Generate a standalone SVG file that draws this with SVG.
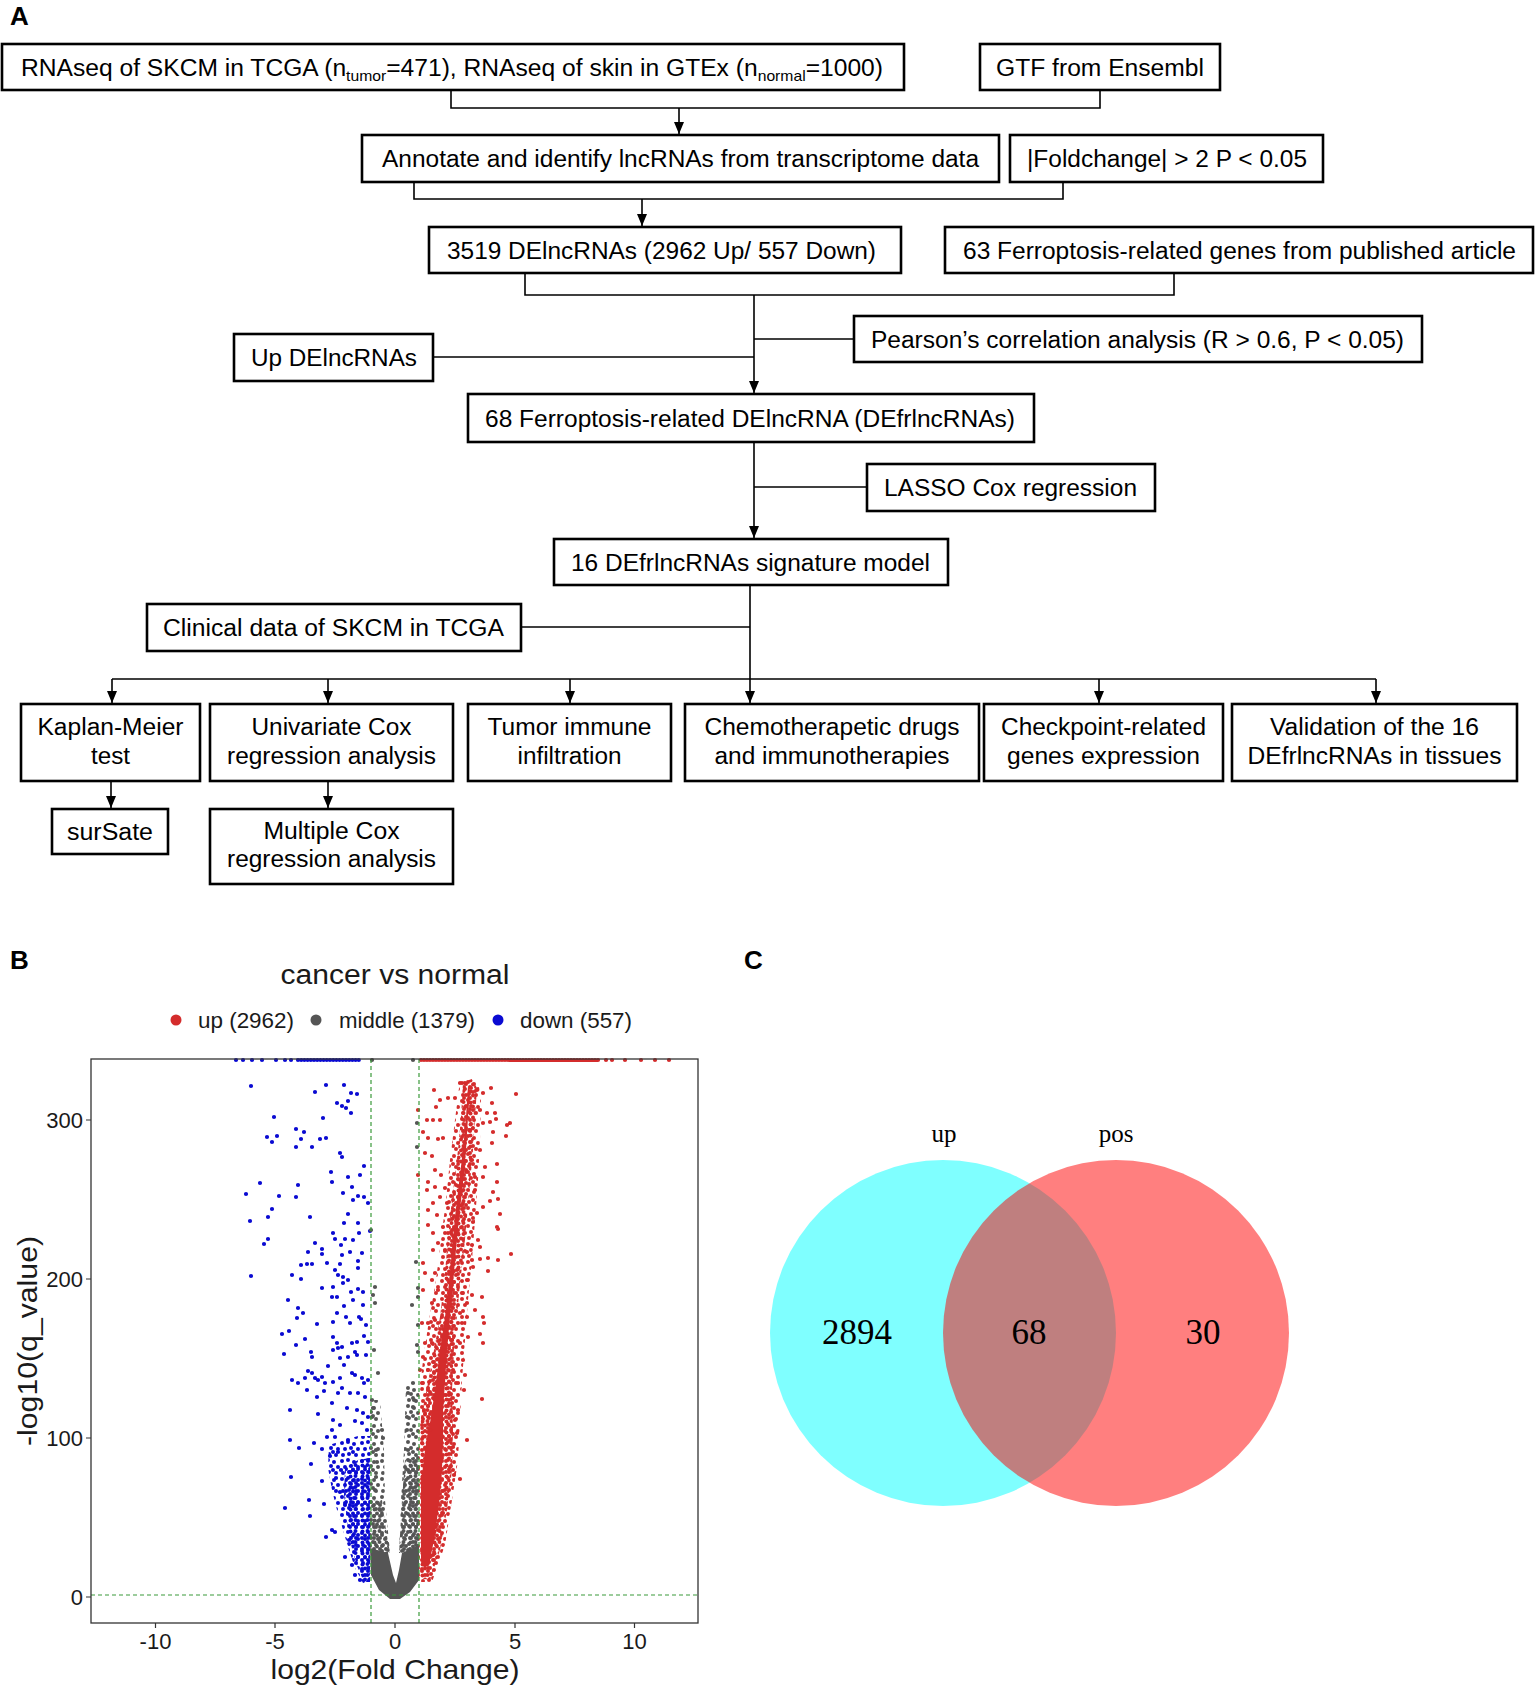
<svg xmlns="http://www.w3.org/2000/svg" width="1535" height="1685" viewBox="0 0 1535 1685">
<style>
.box{fill:#fff;stroke:#000;stroke-width:2.6}
.t{font-family:"Liberation Sans",Arial,sans-serif;font-size:23.5px;fill:#000;text-anchor:middle}
.ln{fill:none;stroke:#000;stroke-width:1.6}
.arr{fill:none;stroke:#000;stroke-width:1.6;marker-end:url(#ah)}
.lbl{font-family:"Liberation Sans",Arial,sans-serif;font-weight:bold;font-size:26px;fill:#000}
.ax{font-family:"Liberation Sans",Arial,sans-serif;fill:#1a1a1a}
.dB{fill:none;stroke:#0A0AD2;stroke-width:4.2;stroke-linecap:round}
.dR{fill:none;stroke:#D42C2C;stroke-width:4.2;stroke-linecap:round}
.dG{fill:none;stroke:#555;stroke-width:4.2;stroke-linecap:round}
.gd{fill:none;stroke:#3A9A3A;stroke-width:1.2;stroke-dasharray:4 3}
.vn{font-family:"Liberation Serif","Times New Roman",serif;fill:#000;text-anchor:middle}
.tk{stroke:#333;stroke-width:1.2}
</style>
<defs>
<marker id="ah" markerWidth="12" markerHeight="10" refX="12" refY="5" orient="auto" markerUnits="userSpaceOnUse"><path d="M0,0 L12,5 L0,10 Z" fill="#000"/></marker>
<pattern id="pB" width="20" height="18" patternUnits="userSpaceOnUse"><g fill="#0A0AD2"><circle cx="2" cy="3" r="2"/><circle cx="8" cy="2" r="2"/><circle cx="14" cy="4" r="2"/><circle cx="18" cy="9" r="2"/><circle cx="5" cy="9" r="2"/><circle cx="11" cy="8" r="2"/><circle cx="16" cy="15" r="2"/><circle cx="3" cy="15" r="2"/><circle cx="9" cy="14" r="2"/><circle cx="13" cy="12" r="2"/></g></pattern>
<pattern id="pBd" width="12" height="11" patternUnits="userSpaceOnUse"><g fill="#0A0AD2"><circle cx="2.5" cy="2.5" r="2"/><circle cx="7.5" cy="2" r="2"/><circle cx="10" cy="6" r="2"/><circle cx="5" cy="6.5" r="2"/><circle cx="2" cy="9" r="2"/><circle cx="8" cy="9" r="2"/></g></pattern>
<pattern id="pR" width="20" height="18" patternUnits="userSpaceOnUse"><g fill="#D42C2C"><circle cx="2" cy="3" r="2"/><circle cx="8" cy="2" r="2"/><circle cx="14" cy="4" r="2"/><circle cx="18" cy="9" r="2"/><circle cx="5" cy="9" r="2"/><circle cx="11" cy="8" r="2"/><circle cx="16" cy="15" r="2"/><circle cx="3" cy="15" r="2"/><circle cx="9" cy="14" r="2"/><circle cx="13" cy="12" r="2"/></g></pattern>
<pattern id="pRd" width="12" height="11" patternUnits="userSpaceOnUse"><g fill="#D42C2C"><circle cx="2.5" cy="2.5" r="2"/><circle cx="7.5" cy="2" r="2"/><circle cx="10" cy="6" r="2"/><circle cx="5" cy="6.5" r="2"/><circle cx="2" cy="9" r="2"/><circle cx="8" cy="9" r="2"/></g></pattern>
<pattern id="pG" width="20" height="18" patternUnits="userSpaceOnUse"><g fill="#555"><circle cx="2" cy="3" r="2"/><circle cx="8" cy="2" r="2"/><circle cx="14" cy="4" r="2"/><circle cx="18" cy="9" r="2"/><circle cx="5" cy="9" r="2"/><circle cx="11" cy="8" r="2"/><circle cx="16" cy="15" r="2"/><circle cx="3" cy="15" r="2"/><circle cx="9" cy="14" r="2"/><circle cx="13" cy="12" r="2"/></g></pattern>
<pattern id="pGd" width="12" height="11" patternUnits="userSpaceOnUse"><g fill="#555"><circle cx="2.5" cy="2.5" r="2"/><circle cx="7.5" cy="2" r="2"/><circle cx="10" cy="6" r="2"/><circle cx="5" cy="6.5" r="2"/><circle cx="2" cy="9" r="2"/><circle cx="8" cy="9" r="2"/></g></pattern>
</defs>
<rect width="1535" height="1685" fill="#fff"/>

<text class="lbl" x="10" y="25">A</text>
<text class="lbl" x="10" y="969">B</text>
<text class="lbl" x="744" y="969">C</text>

<g id="connectors">
<path class="ln" d="M451 90V108H1100V91"/>
<path class="arr" d="M679 108V134"/>
<path class="ln" d="M414 182V199H1063V182"/>
<path class="arr" d="M642 199V226"/>
<path class="ln" d="M525 273V295H1174V273"/>
<path class="arr" d="M754 295V393"/>
<path class="ln" d="M754 339H854"/>
<path class="ln" d="M433 357H754"/>
<path class="arr" d="M754 442V538"/>
<path class="ln" d="M754 487H867"/>
<path class="arr" d="M750 585V703"/>
<path class="ln" d="M521 627H750"/>
<path class="ln" d="M112 679H1376"/>
<path class="arr" d="M112 679V703"/>
<path class="arr" d="M328 679V703"/>
<path class="arr" d="M570 679V703"/>
<path class="arr" d="M1099 679V703"/>
<path class="arr" d="M1376 679V703"/>
<path class="arr" d="M111 781V808"/>
<path class="arr" d="M328 781V808"/>
</g>

<g id="n1"><rect class="box" x="2" y="44" width="902" height="46"/>
<text class="t" x="452" y="75.5" textLength="862" lengthAdjust="spacingAndGlyphs">RNAseq of SKCM in TCGA (n<tspan font-size="15" dy="5.5">tumor</tspan><tspan dy="-5.5">=471), RNAseq of skin in GTEx (n</tspan><tspan font-size="15" dy="5.5">normal</tspan><tspan dy="-5.5">=1000)</tspan></text></g>
<g id="n2"><rect class="box" x="980" y="44" width="240" height="46"/>
<text class="t" x="1100" y="75.5" textLength="208" lengthAdjust="spacingAndGlyphs">GTF from Ensembl</text></g>
<g id="n3"><rect class="box" x="362" y="135" width="637" height="47"/>
<text class="t" x="680.5" y="167" textLength="597" lengthAdjust="spacingAndGlyphs">Annotate and identify lncRNAs from transcriptome data</text></g>
<g id="n4"><rect class="box" x="1010" y="135" width="313" height="47"/>
<text class="t" x="1167" y="167" textLength="280" lengthAdjust="spacingAndGlyphs">|Foldchange| &gt; 2 P &lt; 0.05</text></g>
<g id="n5"><rect class="box" x="429" y="227" width="472" height="46"/>
<text class="t" x="661.5" y="258.5" textLength="429" lengthAdjust="spacingAndGlyphs">3519 DElncRNAs (2962 Up/ 557 Down)</text></g>
<g id="n6"><rect class="box" x="945" y="227" width="588" height="46"/>
<text class="t" x="1239.5" y="258.5" textLength="553" lengthAdjust="spacingAndGlyphs">63 Ferroptosis-related genes from published article</text></g>
<g id="n7"><rect class="box" x="854" y="316" width="568" height="46"/>
<text class="t" x="1137.5" y="347.5" textLength="533" lengthAdjust="spacingAndGlyphs">Pearson’s correlation analysis (R &gt; 0.6, P &lt; 0.05)</text></g>
<g id="n8"><rect class="box" x="234" y="334" width="199" height="47"/>
<text class="t" x="334" y="366" textLength="166" lengthAdjust="spacingAndGlyphs">Up DElncRNAs</text></g>
<g id="n9"><rect class="box" x="468" y="394" width="566" height="48"/>
<text class="t" x="750" y="426.5" textLength="530" lengthAdjust="spacingAndGlyphs">68 Ferroptosis-related DElncRNA (DEfrlncRNAs)</text></g>
<g id="n10"><rect class="box" x="867" y="464" width="288" height="47"/>
<text class="t" x="1010.5" y="496" textLength="253" lengthAdjust="spacingAndGlyphs">LASSO Cox regression</text></g>
<g id="n11"><rect class="box" x="554" y="539" width="394" height="46"/>
<text class="t" x="750.5" y="570.5" textLength="359" lengthAdjust="spacingAndGlyphs">16 DEfrlncRNAs signature model</text></g>
<g id="n12"><rect class="box" x="147" y="604" width="374" height="47"/>
<text class="t" x="333.5" y="636" textLength="341" lengthAdjust="spacingAndGlyphs">Clinical data of SKCM in TCGA</text></g>
<g id="n13"><rect class="box" x="21" y="704" width="179" height="77"/>
<text class="t" x="110.5" y="735" textLength="146" lengthAdjust="spacingAndGlyphs">Kaplan-Meier</text>
<text class="t" x="110.5" y="763.5" textLength="39" lengthAdjust="spacingAndGlyphs">test</text></g>
<g id="n14"><rect class="box" x="210" y="704" width="243" height="77"/>
<text class="t" x="331.5" y="735" textLength="160" lengthAdjust="spacingAndGlyphs">Univariate Cox</text>
<text class="t" x="331.5" y="763.5" textLength="209" lengthAdjust="spacingAndGlyphs">regression analysis</text></g>
<g id="n15"><rect class="box" x="468" y="704" width="203" height="77"/>
<text class="t" x="569.5" y="735" textLength="164" lengthAdjust="spacingAndGlyphs">Tumor immune</text>
<text class="t" x="569.5" y="763.5" textLength="104" lengthAdjust="spacingAndGlyphs">infiltration</text></g>
<g id="n16"><rect class="box" x="685" y="704" width="294" height="77"/>
<text class="t" x="832" y="735" textLength="255" lengthAdjust="spacingAndGlyphs">Chemotherapetic drugs</text>
<text class="t" x="832" y="763.5" textLength="235" lengthAdjust="spacingAndGlyphs">and immunotherapies</text></g>
<g id="n17"><rect class="box" x="984" y="704" width="239" height="77"/>
<text class="t" x="1103.5" y="735" textLength="205" lengthAdjust="spacingAndGlyphs">Checkpoint-related</text>
<text class="t" x="1103.5" y="763.5" textLength="193" lengthAdjust="spacingAndGlyphs">genes expression</text></g>
<g id="n18"><rect class="box" x="1232" y="704" width="285" height="77"/>
<text class="t" x="1374.5" y="735" textLength="209" lengthAdjust="spacingAndGlyphs">Validation of the 16</text>
<text class="t" x="1374.5" y="763.5" textLength="254" lengthAdjust="spacingAndGlyphs">DEfrlncRNAs in tissues</text></g>
<g id="n19"><rect class="box" x="52" y="809" width="116" height="45"/>
<text class="t" x="110" y="840" textLength="86" lengthAdjust="spacingAndGlyphs">surSate</text></g>
<g id="n20"><rect class="box" x="210" y="809" width="243" height="75"/>
<text class="t" x="331.5" y="839" textLength="136" lengthAdjust="spacingAndGlyphs">Multiple Cox</text>
<text class="t" x="331.5" y="867" textLength="209" lengthAdjust="spacingAndGlyphs">regression analysis</text></g>

<g id="volcano">
<text class="ax" x="395" y="984" font-size="27" text-anchor="middle" textLength="229" lengthAdjust="spacingAndGlyphs">cancer vs normal</text>
<circle cx="176" cy="1020" r="5.5" fill="#D42C2C"/>
<text class="ax" x="198" y="1028" font-size="22" textLength="96" lengthAdjust="spacingAndGlyphs">up (2962)</text>
<circle cx="316" cy="1020" r="5.5" fill="#555"/>
<text class="ax" x="339" y="1028" font-size="22" textLength="136" lengthAdjust="spacingAndGlyphs">middle (1379)</text>
<circle cx="498" cy="1020" r="5.5" fill="#0A0AD2"/>
<text class="ax" x="520" y="1028" font-size="22" textLength="112" lengthAdjust="spacingAndGlyphs">down (557)</text>

<!-- dense regions -->
<path fill="url(#pB)" d="M329 1445L345 1440L358 1436L370 1436L370 1583L363 1583L355 1568L349 1550L343 1530L337 1510L332 1490L328 1468Z"/>
<path fill="url(#pBd)" d="M345 1468L358 1460L370 1458L370 1582L364 1582L357 1566L351 1545L347 1520L344 1495Z"/>
<path fill="url(#pR)" d="M460 1080L455 1120L450 1160L446 1200L441 1240L436 1280L429 1320L423 1360L419 1400L419 1582L432 1582L445 1545L452 1500L458 1460L460 1420L462 1380L465 1340L468 1300L472 1260L475 1220L478 1180L480 1140L481 1100L478 1080Z"/>
<path fill="url(#pRd)" d="M463 1082L461 1117L458 1150L454 1183L450 1217L447 1250L444 1283L440 1317L434 1350L428 1383L421 1417L419 1450L419 1578L430 1580L440 1550L447 1510L452 1470L453 1430L452 1390L454 1350L457 1317L460 1283L464 1250L467 1217L470 1183L473 1150L475 1117L477 1088L472 1079Z"/>
<path fill="#D42C2C" d="M468 1086L466 1117L463 1150L459 1183L455 1217L452 1250L449 1283L445 1317L440 1350L436 1383L431 1417L425 1450L421 1483L421 1560L424 1568L429 1565L434 1540L439 1505L442 1470L443 1440L443 1410L445 1383L447 1350L450 1317L453 1283L456 1250L459 1217L463 1183L466 1150L468 1117L470 1090Z"/>
<path fill="url(#pG)" d="M370 1400L380 1400L384 1450L385 1500L390 1553L370 1553Z"/>
<path fill="url(#pG)" d="M406 1385L419 1385L419 1550L399 1553L401 1500L404 1450Z"/>
<path fill="url(#pGd)" d="M405 1460L419 1455L419 1550L399 1553L402 1500Z"/>
<path fill="url(#pGd)" d="M370 1500L382 1500L386 1530L390 1553L370 1553Z"/>
<path fill="#555" d="M370 1548L388 1553L393 1575L396 1583L399 1570L402 1553L419 1545L419 1580L410 1592L400 1599L390 1599L379 1590L371 1575Z"/>

<path class="dB" d="M251 1086h.01M315 1092h.01M326 1085h.01M344 1085h.01M351 1093h.01M357 1094h.01M337 1103h.01M342 1106h.01M348 1101h.01M346 1108h.01M351 1113h.01M274 1117h.01M323 1118h.01M296 1129h.01M304 1132h.01M267 1137h.01M277 1136h.01M272 1142h.01M301 1139h.01M320 1139h.01M326 1138h.01M296 1147h.01M312 1147h.01M340 1153h.01M342 1157h.01M364 1166h.01M331 1172h.01M348 1177h.01M360 1175h.01M332 1182h.01M352 1187h.01M260 1183h.01M298 1185h.01M246 1194h.01M279 1196h.01M296 1197h.01M343 1193h.01M358 1196h.01M364 1197h.01M353 1200h.01M368 1203h.01M272 1209h.01M268 1217h.01M310 1217h.01M348 1214h.01M250 1221h.01M344 1223h.01M358 1223h.01M333 1233h.01M359 1233h.01M370 1231h.01M264 1244h.01M268 1239h.01M315 1243h.01M335 1239h.01M345 1239h.01M353 1240h.01M341 1245h.01M308 1252h.01M322 1249h.01M322 1254h.01M342 1255h.01M350 1252h.01M362 1253h.01M301 1265h.01M307 1264h.01M312 1264h.01M327 1263h.01M335 1270h.01M340 1264h.01M358 1261h.01M358 1268h.01M251 1276h.01M292 1275h.01M301 1279h.01M338 1275h.01M343 1277h.01M348 1280h.01M333 1287h.01M322 1288h.01M343 1283h.01M351 1292h.01M358 1289h.01M363 1292h.01M288 1300h.01M332 1297h.01M337 1297h.01M344 1306h.01M353 1300h.01M363 1305h.01M298 1308h.01M303 1313h.01M297 1318h.01M317 1324h.01M333 1322h.01M337 1313h.01M346 1317h.01M350 1323h.01M359 1317h.01M361 1319h.01M366 1325h.01M282 1334h.01M289 1331h.01M305 1339h.01M296 1345h.01M333 1337h.01M337 1343h.01M342 1347h.01M352 1343h.01M357 1342h.01M364 1336h.01M368 1342h.01M284 1354h.01M311 1352h.01M312 1357h.01M333 1350h.01M338 1348h.01M340 1358h.01M348 1357h.01M355 1352h.01M357 1355h.01M366 1355h.01M344 1365h.01M328 1366h.01M308 1371h.01M312 1373h.01M292 1380h.01M298 1383h.01M305 1378h.01M307 1390h.01M315 1378h.01M318 1380h.01M322 1377h.01M325 1383h.01M324 1391h.01M333 1382h.01M340 1378h.01M352 1373h.01M355 1375h.01M362 1378h.01M364 1383h.01M368 1380h.01M342 1388h.01M350 1393h.01M358 1393h.01M365 1397h.01M290 1410h.01M317 1397h.01M338 1393h.01M332 1403h.01M347 1408h.01M357 1410h.01M363 1413h.01M368 1417h.01M318 1414h.01M333 1420h.01M340 1425h.01M355 1421h.01M362 1423h.01M367 1430h.01M332 1430h.01M327 1437h.01M335 1437h.01M348 1440h.01M290 1440h.01M314 1443h.01M299 1448h.01M322 1449h.01M311 1464h.01M291 1477h.01M322 1481h.01M309 1500h.01M324 1504h.01M285 1508h.01M310 1516h.01M332 1530h.01M335 1532h.01M326 1537h.01M345 1557h.01M352 1565h.01M330 1456h.01M338 1452h.01M341 1470h.01M336 1478h.01M340 1492h.01M345 1505h.01M349 1540h.01M355 1575h.01M360 1580h.01M236 1060h.01M243 1060h.01M252 1060h.01M262 1060h.01M276 1060h.01M285 1060h.01M291 1060h.01"/>
<path class="dB" stroke-dasharray="0 3.2" d="M298 1060H362"/>
<path class="dR" d="M434 1090h.01M418 1110h.01M427 1120h.01M433 1120h.01M440 1120h.01M436 1107h.01M440 1100h.01M448 1098h.01M455 1098h.01M423 1132h.01M428 1138h.01M438 1139h.01M443 1138h.01M425 1153h.01M432 1156h.01M435 1170h.01M441 1175h.01M418 1175h.01M428 1182h.01M427 1190h.01M435 1187h.01M440 1197h.01M445 1188h.01M433 1203h.01M447 1203h.01M428 1210h.01M437 1215h.01M428 1225h.01M443 1227h.01M433 1233h.01M448 1233h.01M438 1243h.01M445 1250h.01M433 1250h.01M423 1263h.01M425 1273h.01M435 1273h.01M432 1280h.01M423 1290h.01M438 1290h.01M432 1303h.01M422 1323h.01M428 1323h.01M435 1320h.01M425 1343h.01M432 1343h.01M423 1357h.01M420 1370h.01M428 1370h.01M422 1383h.01M428 1390h.01M460 1083h.01M465 1083h.01M477 1090h.01M483 1093h.01M491 1088h.01M516 1094h.01M492 1103h.01M480 1110h.01M487 1113h.01M495 1113h.01M490 1122h.01M496 1119h.01M483 1123h.01M510 1123h.01M507 1125h.01M506 1136h.01M493 1132h.01M492 1143h.01M480 1150h.01M472 1160h.01M497 1164h.01M485 1167h.01M475 1177h.01M483 1177h.01M497 1182h.01M475 1190h.01M493 1192h.01M498 1199h.01M490 1201h.01M483 1207h.01M477 1213h.01M500 1214h.01M473 1222h.01M497 1227h.01M498 1229h.01M478 1240h.01M472 1245h.01M480 1247h.01M467 1252h.01M472 1260h.01M480 1259h.01M488 1258h.01M498 1260h.01M511 1254h.01M473 1267h.01M488 1271h.01M467 1280h.01M462 1293h.01M472 1295h.01M482 1297h.01M467 1303h.01M460 1313h.01M467 1317h.01M475 1310h.01M483 1317h.01M484 1323h.01M462 1323h.01M480 1334h.01M483 1343h.01M468 1337h.01M460 1343h.01M463 1360h.01M453 1370h.01M465 1375h.01M458 1383h.01M464 1390h.01M482 1399h.01M452 1403h.01M458 1410h.01M467 1440h.01M457 1433h.01M453 1447h.01M450 1467h.01M454 1475h.01M460 1479h.01M445 1490h.01M443 1513h.01M438 1530h.01M433 1555h.01M424 1410h.01M430 1430h.01M450 1300h.01M457 1270h.01M446 1330h.01M452 1340h.01M462 1205h.01M466 1170h.01M470 1130h.01M455 1230h.01M445 1360h.01M449 1395h.01M455 1420h.01M450 1440h.01M606 1060h.01M612 1060h.01M625 1060h.01M641 1060h.01M655 1060h.01M669 1060h.01"/>
<path class="dR" stroke-dasharray="0 3" d="M421 1060H600"/>
<path class="dG" d="M371 1230h.01M375 1287h.01M373 1295h.01M375 1303h.01M374 1350h.01M378 1373h.01M372 1400h.01M373 1408h.01M372 1417h.01M382 1430h.01M383 1438h.01M376 1450h.01M377 1462h.01M376 1477h.01M375 1490h.01M380 1510h.01M417 1123h.01M417 1147h.01M416 1262h.01M418 1288h.01M418 1297h.01M412 1305h.01M418 1325h.01M417 1345h.01M418 1352h.01M413 1383h.01M408 1393h.01M414 1400h.01M413 1407h.01M407 1417h.01M407 1430h.01M408 1450h.01M408 1470h.01M372 1060h.01M413 1060h.01"/>

<path class="gd" d="M371 1059V1623M419 1059V1623M91 1595H698"/>
<rect x="91" y="1059" width="607" height="564" fill="none" stroke="#333" stroke-width="1.3"/>
<path class="tk" d="M86 1597H91M86 1438H91M86 1279H91M86 1120H91M155.5 1623V1628M275 1623V1628M395 1623V1628M515 1623V1628M634.5 1623V1628"/>
<g class="ax" font-size="22" text-anchor="end">
<text x="83" y="1605">0</text><text x="83" y="1446">100</text><text x="83" y="1287">200</text><text x="83" y="1128">300</text>
</g>
<g class="ax" font-size="22" text-anchor="middle">
<text x="155.5" y="1649">-10</text><text x="275" y="1649">-5</text><text x="395" y="1649">0</text><text x="515" y="1649">5</text><text x="634.5" y="1649">10</text>
</g>
<text class="ax" x="395" y="1679" font-size="28" text-anchor="middle" textLength="249" lengthAdjust="spacingAndGlyphs">log2(Fold Change)</text>
<text class="ax" transform="translate(37 1341) rotate(-90)" font-size="28" text-anchor="middle" textLength="210" lengthAdjust="spacingAndGlyphs">-log10(q_value)</text>
</g>

<g id="venn">
<circle cx="943" cy="1333" r="173" fill="#00FFFF" fill-opacity="0.5"/>
<circle cx="1116" cy="1333" r="173" fill="#FF0000" fill-opacity="0.5"/>
<text class="vn" x="944" y="1142" font-size="25">up</text>
<text class="vn" x="1116" y="1142" font-size="25">pos</text>
<text class="vn" x="857" y="1344" font-size="35">2894</text>
<text class="vn" x="1029" y="1344" font-size="35">68</text>
<text class="vn" x="1203" y="1344" font-size="35">30</text>
</g>
</svg>
